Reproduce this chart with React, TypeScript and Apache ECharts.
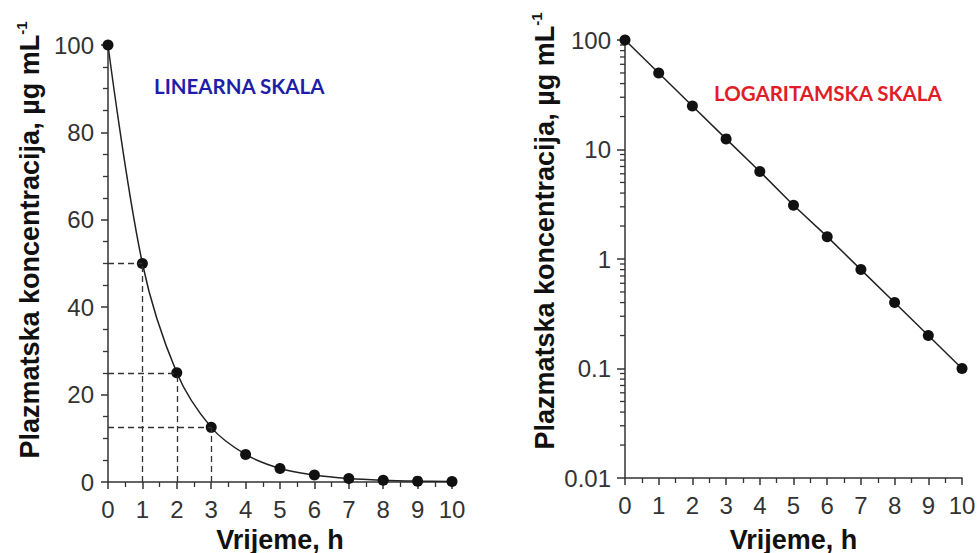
import React, { useEffect, useRef } from "react";
import * as echarts from "echarts";

// ---- data ----
const hours = [0, 1, 2, 3, 4, 5, 6, 7, 8, 9, 10];
const concLinear = [100, 50, 25, 12.5, 6.3, 3.1, 1.6, 0.8, 0.4, 0.2, 0.1];
const concLog = [100, 50, 25, 12.5, 6.3, 3.1, 1.6, 0.8, 0.4, 0.2, 0.1];
const halfLifeHours = [1, 2, 3];
const logMajorTicks = [0.01, 0.1, 1, 10, 100];
const logMinorMultipliers = [2, 3, 4, 5, 6, 7, 8, 9];
const xTickLabels = ["0", "1", "2", "3", "4", "5", "6", "7", "8", "9", "10"];

const yName = "{a|Plazmatska koncentracija, µg mL}{b|-1}";
const xName = "Vrijeme, h";
const linearTitle = "LINEARNA SKALA";
const logTitle = "LOGARITAMSKA SKALA";

const FONT = "'Liberation Sans', Arial, sans-serif";
const AXIS_COLOR = "#333";
const TICK_COLOR = "#333";
const LABEL_COLOR = "#333";

export default function App() {
  const ref = useRef<HTMLDivElement>(null);

  useEffect(() => {
    if (!ref.current) return;
    const chart = echarts.init(ref.current, undefined, { renderer: "svg" });

    const minorLogTicks: number[][] = [];
    logMajorTicks.slice(0, -1).forEach((d) =>
      logMinorMultipliers.forEach((m) => minorLogTicks.push([0, +(d * m).toPrecision(3)]))
    );

    const nameStyle = (pad: number) => ({
      fontFamily: FONT,
      fontWeight: "bold" as const,
      fontSize: 27,
      color: "#111",
      padding: [0, 0, 0, pad],
      rich: {
        a: { fontFamily: FONT, fontWeight: "bold" as const, fontSize: 27, color: "#111", lineHeight: 32 },
        b: { fontFamily: FONT, fontWeight: "bold" as const, fontSize: 15, color: "#111", lineHeight: 15, verticalAlign: "top" as const },
      },
    });

    const xAxisCommon = {
      type: "value" as const,
      min: 0,
      max: 10,
      interval: 1,
      nameLocation: "middle" as const,
      nameGap: 44,
      nameTextStyle: { fontFamily: FONT, fontWeight: "bold" as const, fontSize: 27, color: "#111" },
      axisLine: { show: true, lineStyle: { color: AXIS_COLOR, width: 1.5 } },
      axisTick: { show: true, inside: false, length: 7, lineStyle: { color: TICK_COLOR, width: 1.5 } },
      minorTick: { show: true, splitNumber: 2, length: 5, lineStyle: { color: TICK_COLOR, width: 1.3 } },
      splitLine: { show: false },
      axisLabel: {
        fontFamily: FONT,
        fontSize: 24,
        color: LABEL_COLOR,
        margin: 15,
        formatter: (v: number) => xTickLabels[v] ?? String(v),
      },
    };

    const markLineData: any[] = [];
    halfLifeHours.forEach((h) => {
      const c = concLinear[hours.indexOf(h)];
      markLineData.push([{ coord: [0, c] }, { coord: [h, c] }]);
      markLineData.push([{ coord: [h, 0] }, { coord: [h, c] }]);
    });

    chart.setOption({
      animation: false,
      backgroundColor: "#fff",
      grid: [
        { left: 108, top: 45, width: 344, height: 437, outerBoundsMode: "none", containLabel: false },
        { left: 625, top: 40, width: 337, height: 438, outerBoundsMode: "none", containLabel: false },
      ],
      xAxis: [
        { ...xAxisCommon, gridIndex: 0, name: xName },
        { ...xAxisCommon, gridIndex: 1, name: xName, nameGap: 48 },
      ],
      yAxis: [
        {
          gridIndex: 0,
          type: "value",
          min: 0,
          max: 100,
          interval: 20,
          name: yName,
          nameLocation: "middle",
          nameRotate: 90,
          nameGap: 62,
          nameTextStyle: nameStyle(47),
          axisLine: { show: true, lineStyle: { color: AXIS_COLOR, width: 1.5 } },
          axisTick: { show: true, inside: false, length: 7, lineStyle: { color: TICK_COLOR, width: 1.5 } },
          minorTick: { show: true, splitNumber: 4, length: 5, lineStyle: { color: TICK_COLOR, width: 1.3 } },
          splitLine: { show: false },
          axisLabel: { fontFamily: FONT, fontSize: 24, color: LABEL_COLOR, margin: 14 },
        },
        {
          gridIndex: 1,
          type: "log",
          logBase: 10,
          min: logMajorTicks[0],
          max: logMajorTicks[logMajorTicks.length - 1],
          name: yName,
          nameLocation: "middle",
          nameRotate: 90,
          nameGap: 64,
          nameTextStyle: nameStyle(56),
          axisLine: { show: true, lineStyle: { color: AXIS_COLOR, width: 1.5 } },
          axisTick: { show: true, inside: false, length: 8, lineStyle: { color: TICK_COLOR, width: 1.5 } },
          splitLine: { show: false },
          axisLabel: {
            fontFamily: FONT,
            fontSize: 24,
            color: LABEL_COLOR,
            margin: 14,
            formatter: (v: number) => String(+v.toPrecision(3)),
          },
        },
      ],
      series: [
        {
          type: "line",
          xAxisIndex: 0,
          yAxisIndex: 0,
          data: hours.map((h, i) => [h, concLinear[i]]),
          smooth: 0.35,
          symbol: "circle",
          symbolSize: 11,
          itemStyle: { color: "#111" },
          lineStyle: { color: "#222", width: 1.5 },
          markLine: {
            silent: true,
            symbol: ["none", "none"],
            label: { show: false },
            lineStyle: { color: "#333", width: 1.3, type: [6, 4] },
            data: markLineData,
          },
        },
        {
          type: "line",
          xAxisIndex: 1,
          yAxisIndex: 1,
          data: hours.map((h, i) => [h, concLog[i]]),
          symbol: "circle",
          symbolSize: 11,
          itemStyle: { color: "#111" },
          lineStyle: { color: "#222", width: 1.5 },
        },
        {
          type: "custom",
          xAxisIndex: 1,
          yAxisIndex: 1,
          silent: true,
          clip: false,
          data: minorLogTicks,
          renderItem: (_params: any, api: any) => {
            const p = api.coord([api.value(0), api.value(1)]);
            return {
              type: "line",
              shape: { x1: p[0] - 5, y1: p[1], x2: p[0], y2: p[1] },
              style: { stroke: TICK_COLOR, lineWidth: 1.3 },
            };
          },
        },
      ],
      graphic: [
        {
          type: "text",
          left: 154,
          top: 75,
          style: {
            text: linearTitle,
            fontFamily: "Lato, 'Open Sans', sans-serif",
            fontWeight: "bold",
            fontSize: 20.5,
            fill: "#1e1ea8",
          },
        },
        {
          type: "text",
          left: 714,
          top: 82,
          style: {
            text: logTitle,
            fontFamily: "Lato, 'Open Sans', sans-serif",
            fontWeight: "bold",
            fontSize: 20.5,
            fill: "#e11d27",
          },
        },
      ],
    });

    return () => chart.dispose();
  }, []);

  return (
    <div
      ref={ref}
      style={{ position: "fixed", left: 0, top: 0, width: 979, height: 553, background: "#fff" }}
    />
  );
}
